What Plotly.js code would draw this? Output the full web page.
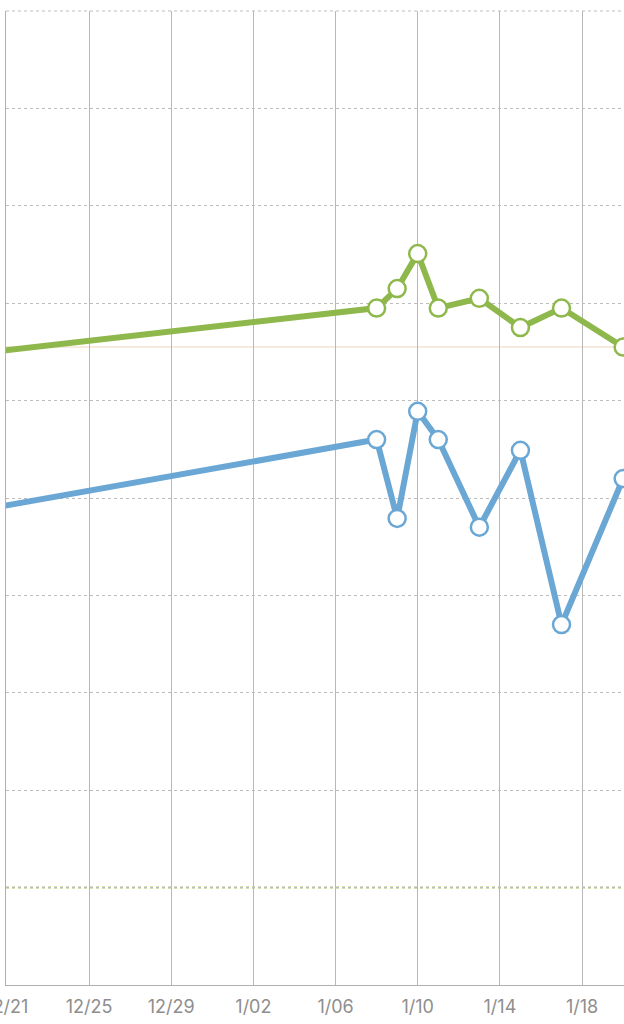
<!DOCTYPE html>
<html>
<head>
<meta charset="utf-8">
<script src="https://cdn.plot.ly/plotly-3.0.1.min.js"></script>
<style>html,body{margin:0;padding:0;background:#fff;}#chart{width:624px;height:1024px;}</style>
</head>
<body>
<div id="chart"></div>
<script>
// Data (y units = gridline steps)
const greenDates = ['2023-12-19','2024-01-08','2024-01-09','2024-01-10','2024-01-11','2024-01-13','2024-01-15','2024-01-17','2024-01-20'];
const greenValues = [6.47, 6.95, 7.15, 7.51, 6.95, 7.05, 6.75, 6.95, 6.55];
const blueDates = ['2023-12-19','2024-01-08','2024-01-09','2024-01-10','2024-01-11','2024-01-13','2024-01-15','2024-01-17','2024-01-20'];
const blueValues = [4.85, 5.60, 4.79, 5.89, 5.60, 4.70, 5.49, 3.70, 5.20];
const tickLabels = ['12/21','12/25','12/29','1/02','1/06','1/10','1/14','1/18'];
const tickDates = ['2023-12-21','2023-12-25','2023-12-29','2024-01-02','2024-01-06','2024-01-10','2024-01-14','2024-01-18'];
const referenceTan = 6.55;
const referenceGreenDotted = 1;
const xStart = '2023-12-20 23:00';
const xEnd = '2024-01-20 01:00';

const green = '#8fb84c';
const blue = '#6ba7d4';

function markerSizes(dates){ return dates.map(d => d < '2023-12-21' ? 0 : 17); }

const traces = [
  {x: greenDates, y: greenValues, mode: 'lines+markers', type: 'scatter',
   line: {color: green, width: 6},
   marker: {size: markerSizes(greenDates), color: '#ffffff', opacity: 1, line: {color: green, width: 2.5}},
   hoverinfo: 'skip'},
  {x: blueDates, y: blueValues, mode: 'lines+markers', type: 'scatter',
   line: {color: blue, width: 6},
   marker: {size: markerSizes(blueDates), color: '#ffffff', opacity: 1, line: {color: blue, width: 2.5}},
   hoverinfo: 'skip'}
];

const layout = {
  width: 624, height: 1024,
  margin: {l: 5.6, r: 0, t: 11, b: 39},
  paper_bgcolor: '#ffffff', plot_bgcolor: '#ffffff',
  showlegend: false,
  xaxis: {
    type: 'date', range: [xStart, xEnd],
    tickmode: 'array', tickvals: tickDates, ticktext: tickLabels,
    showgrid: true, gridcolor: '#b8b8b8', gridwidth: 1,
    showline: true, linecolor: '#b0b0b0', linewidth: 1,
    ticks: '', zeroline: false, ticklabelstandoff: 5, ticklabeloverflow: 'allow',
    tickfont: {family: 'Inter, "Open Sans", sans-serif', size: 18, color: '#8e8e8e'}
  },
  yaxis: {
    range: [0, 10], dtick: 1, tick0: 0,
    showgrid: true, gridcolor: '#bdbdbd', gridwidth: 1, griddash: 'dot',
    showticklabels: false, ticks: '', zeroline: false,
    showline: true, linecolor: '#b0b0b0', linewidth: 1.5
  },
  shapes: [
    {type: 'line', xref: 'paper', x0: 0, x1: 1, yref: 'y', y0: referenceTan, y1: referenceTan,
     line: {color: '#ecd6bb', width: 1}, layer: 'below'},
    {type: 'line', xref: 'paper', x0: 0, x1: 1, yref: 'y', y0: referenceGreenDotted, y1: referenceGreenDotted,
     line: {color: '#c3d896', width: 2.5, dash: 'dot'}, layer: 'below'},
    {type: 'line', xref: 'paper', x0: 0, x1: 1, yref: 'paper', y0: 1, y1: 1,
     line: {color: '#bdbdbd', width: 1, dash: 'dot'}, layer: 'below'}
  ]
};

Plotly.newPlot('chart', traces, layout, {staticPlot: true, displayModeBar: false});
</script>
</body>
</html>
